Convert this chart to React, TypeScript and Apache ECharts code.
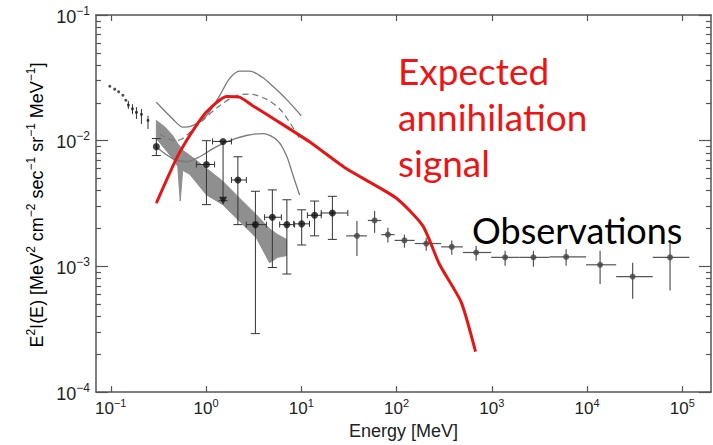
import React, { useEffect, useRef } from "react";
import * as echarts from "echarts";

// ---- axis ticks ----
const xMajor = [0.1, 1, 10, 100, 1000, 10000, 100000];
const yMajor = [1e-4, 1e-3, 1e-2, 1e-1];
const yMinor = [
  2e-4, 3e-4, 4e-4, 5e-4, 6e-4, 7e-4, 8e-4, 9e-4,
  2e-3, 3e-3, 4e-3, 5e-3, 6e-3, 7e-3, 8e-3, 9e-3,
  2e-2, 3e-2, 4e-2, 5e-2, 6e-2, 7e-2, 8e-2, 9e-2,
];

// ---- expected annihilation signal (red) ----
const signalE = [0.301, 0.489, 0.675, 1.01, 1.64, 2.25, 3.09, 5.47, 12.2, 29.6, 99, 189, 282, 477, 675];
const signalF = [3.19e-3, 7.2e-3, 1.1e-2, 1.69e-2, 2.25e-2, 2.22e-2, 1.9e-2, 1.45e-2, 9.8e-3, 6.0e-3, 3.5e-3, 2.1e-3, 1.04e-3, 5.2e-4, 2.1e-4];

// ---- grey model curves ----
const upperE = [0.301, 0.447, 0.573, 0.724, 1.01, 1.39, 1.77, 2.25, 2.87, 3.93, 5.0, 6.96, 10.0];
const upperF = [2.02e-2, 1.49e-2, 1.28e-2, 1.32e-2, 1.58e-2, 2.28e-2, 3.13e-2, 3.58e-2, 3.58e-2, 3.18e-2, 2.72e-2, 2.14e-2, 1.58e-2];
const dashE = [0.327, 0.47, 0.569, 0.923, 1.39, 2.08, 2.87, 4.3, 5.93, 7.55, 9.62];
const dashF = [1.13e-2, 1.0e-2, 1.04e-2, 1.45e-2, 1.9e-2, 2.28e-2, 2.35e-2, 2.14e-2, 1.79e-2, 1.4e-2, 1.04e-2];
const lowerE = [0.301, 0.447, 0.622, 0.859, 1.18, 1.64, 2.65, 3.96, 5.65, 6.97, 8.17, 9.6];
const lowerF = [8.9e-3, 7.2e-3, 6.8e-3, 7.45e-3, 8.65e-3, 9.8e-3, 1.1e-2, 1.14e-2, 1.0e-2, 7.65e-3, 5.33e-3, 3.7e-3];

// ---- shaded band ----
const bandE = [0.301, 0.368, 0.447, 0.505, 0.536, 0.569, 0.675, 1.01, 1.5, 2.25, 3.37, 4.65, 5.65, 7.0];
const bandTop = [1.45e-2, 1.29e-2, 1.1e-2, 9.46e-3, 8.97e-3, 8.39e-3, 7.66e-3, 6.03e-3, 4.76e-3, 3.49e-3, 2.58e-3, 1.99e-3, 1.79e-3, 1.64e-3];
const bandBot = [1.04e-2, 8.65e-3, 7.21e-3, 6.24e-3, 3.31e-3, 5.81e-3, 5.4e-3, 3.71e-3, 3.1e-3, 2.29e-3, 1.69e-3, 1.07e-3, 1.18e-3, 1.22e-3];

// ---- small low-energy dots ----
const dotE = [0.0977, 0.11, 0.121, 0.134, 0.144, 0.153, 0.169, 0.186, 0.21, 0.246];
const dotF = [2.71e-2, 2.57e-2, 2.45e-2, 2.3e-2, 2.1e-2, 1.92e-2, 1.79e-2, 1.68e-2, 1.62e-2, 1.45e-2];
const dotFlo = [2.71e-2, 2.57e-2, 2.45e-2, 2.3e-2, 2.1e-2, 1.79e-2, 1.63e-2, 1.49e-2, 1.36e-2, 1.24e-2];
const dotFhi = [2.71e-2, 2.57e-2, 2.45e-2, 2.3e-2, 2.1e-2, 2.07e-2, 1.95e-2, 1.85e-2, 1.79e-2, 1.58e-2];

// ---- black points (capped error bars) ----
const bkE = [0.301, 1.01, 1.51, 2.16, 3.3, 4.97, 7.06, 10.1, 13.8, 21.2];
const bkF = [8.97e-3, 6.47e-3, 9.87e-3, 4.87e-3, 2.15e-3, 2.46e-3, 2.15e-3, 2.18e-3, 2.55e-3, 2.66e-3];
const bkElo = [0.301, 0.792, 1.17, 1.85, 2.65, 4.12, 5.93, 8.32, 11.6, 16.2];
const bkEhi = [0.301, 1.23, 1.85, 2.65, 4.3, 6.18, 8.51, 12.2, 16.2, 30.8];
const bkFlo = [7.62e-3, 3.1e-3, 3.33e-3, 2.15e-3, 2.92e-4, 9.8e-4, 8.7e-4, 1.48e-3, 1.75e-3, 1.64e-3];
const bkFhi = [1.04e-2, 1.0e-2, 9.87e-3, 7.45e-3, 3.96e-3, 4.06e-3, 3.39e-3, 2.82e-3, 3.31e-3, 3.61e-3];
const limitE = [1.51];
const limitF = [3.33e-3];

// ---- grey points (crosses) ----
const gyE = [38.4, 58.8, 81.1, 121, 205, 380, 685, 1380, 2735, 6030, 13700, 30100, 74300];
const gyF = [1.75e-3, 2.32e-3, 1.79e-3, 1.61e-3, 1.52e-3, 1.43e-3, 1.29e-3, 1.18e-3, 1.18e-3, 1.19e-3, 1.03e-3, 8.3e-4, 1.18e-3];
const gyElo = [29.6, 50.0, 69.2, 95.3, 155, 294, 497, 986, 1950, 4030, 9770, 20200, 48900];
const gyEhi = [48.9, 69.2, 95.3, 155, 294, 497, 986, 1950, 4030, 9770, 20200, 48900, 118600];
const gyFlo = [1.21e-3, 1.85e-3, 1.55e-3, 1.41e-3, 1.33e-3, 1.24e-3, 1.11e-3, 1.01e-3, 9.95e-4, 1.01e-3, 7.26e-4, 5.53e-4, 6.44e-4];
const gyFhi = [2.3e-3, 2.76e-3, 2.03e-3, 1.79e-3, 1.69e-3, 1.61e-3, 1.46e-3, 1.33e-3, 1.33e-3, 1.37e-3, 1.33e-3, 1.07e-3, 1.55e-3];

const zip2 = (a: number[], b: number[]) => a.map((v, i) => [v, b[i]]);
const zip6 = (e: number[], f: number[], el: number[], eh: number[], fl: number[], fh: number[]) =>
  e.map((v, i) => [v, f[i], el[i], eh[i], fl[i], fh[i]]);

const pow = (v: number) => {
  const e = Math.round(Math.log10(v));
  return `{n|10}{s|${e < 0 ? "\u2212" + -e : e}}`;
};

const errRender = (color: string, lw: number, cap: number, hcap: number) => (params: any, api: any) => {
  const x = api.value(0), y = api.value(1);
  const xlo = api.value(2), xhi = api.value(3), ylo = api.value(4), yhi = api.value(5);
  const style = { stroke: color, lineWidth: lw };
  const ch: any[] = [];
  const ln = (a: number[], b: number[]) =>
    ch.push({ type: "line", shape: { x1: a[0], y1: a[1], x2: b[0], y2: b[1] }, style });
  if (ylo !== yhi) {
    const a = api.coord([x, ylo]);
    const b = api.coord([x, yhi]);
    ln(a, b);
    if (cap > 0) {
      ln([a[0] - cap / 2, a[1]], [a[0] + cap / 2, a[1]]);
      ln([b[0] - cap / 2, b[1]], [b[0] + cap / 2, b[1]]);
    }
  }
  if (xlo !== xhi) {
    const a = api.coord([xlo, y]);
    const b = api.coord([xhi, y]);
    ln(a, b);
    if (hcap > 0) {
      ln([a[0], a[1] - hcap / 2], [a[0], a[1] + hcap / 2]);
      ln([b[0], b[1] - hcap / 2], [b[0], b[1] + hcap / 2]);
    }
  }
  return { type: "group", children: ch };
};

const AXC = "#555";
const FONT = "Liberation Sans";

export default function App() {
  const ref = useRef<HTMLDivElement>(null);
  useEffect(() => {
    if (!ref.current) return;
    const chart = echarts.init(ref.current, undefined, { renderer: "svg" });
    const richX = {
      n: { fontSize: 17, fontFamily: FONT, color: "#222", lineHeight: 20, verticalAlign: "bottom" },
      s: { fontSize: 11, fontFamily: FONT, color: "#222", lineHeight: 11, verticalAlign: "top" },
    };
    const richY = {
      n: { fontSize: 18, fontFamily: FONT, color: "#222", lineHeight: 21, verticalAlign: "bottom" },
      s: { fontSize: 12, fontFamily: FONT, color: "#222", lineHeight: 12, verticalAlign: "top" },
    };
    const baseX = {
      type: "log",
      logBase: 10,
      min: 0.07,
      max: 2e5,
      splitLine: { show: false },
      axisLine: { show: true, onZero: false, lineStyle: { color: AXC, width: 1.5 } },
    };
    const baseY = {
      type: "log",
      logBase: 10,
      min: 1e-4,
      max: 1e-1,
      splitLine: { show: false },
      axisLine: { show: true, onZero: false, lineStyle: { color: AXC, width: 1.5 } },
    };
    const option: any = {
      animation: false,
      backgroundColor: "#fff",
      grid: { left: 96, right: 2, top: 15, bottom: 49 },
      xAxis: [
        {
          ...baseX,
          position: "bottom",
          axisTick: { show: true, inside: true, length: 6, customValues: xMajor, lineStyle: { color: AXC, width: 1.2 } },
          axisLabel: { customValues: xMajor, formatter: pow, rich: richX, margin: 5 },
          name: "Energy [MeV]",
          nameLocation: "middle",
          nameGap: 22,
          nameTextStyle: { fontSize: 18, fontFamily: FONT, color: "#222" },
        },
        {
          ...baseX,
          position: "top",
          axisTick: { show: true, inside: true, length: 6, customValues: xMajor, lineStyle: { color: AXC, width: 1.2 } },
          axisLabel: { show: false },
        },
      ],
      yAxis: [
        {
          ...baseY,
          position: "left",
          axisTick: { show: true, inside: true, length: 12, customValues: yMajor, lineStyle: { color: AXC, width: 1.2 } },
          axisLabel: { customValues: yMajor, formatter: pow, rich: richY, margin: 6 },
        },
        {
          ...baseY,
          position: "left",
          axisLine: { show: false },
          axisTick: { show: true, inside: true, length: 5, customValues: yMinor, lineStyle: { color: AXC, width: 1.2 } },
          axisLabel: { show: false },
        },
        {
          ...baseY,
          position: "right",
          axisTick: { show: true, inside: true, length: 12, customValues: yMajor, lineStyle: { color: AXC, width: 1.2 } },
          axisLabel: { show: false },
        },
        {
          ...baseY,
          position: "right",
          axisLine: { show: false },
          axisTick: { show: true, inside: true, length: 5, customValues: yMinor, lineStyle: { color: AXC, width: 1.2 } },
          axisLabel: { show: false },
        },
      ],
      graphic: [
        {
          type: "text",
          x: 35,
          y: 205,
          rotation: Math.PI / 2,
          style: {
            text:
              "{n|E}{s|2}{n|I(E) [MeV}{s|2}{n| cm}{s|\u22122}{n| sec}{s|\u22121}{n| sr}{s|\u22121}{n| MeV}{s|\u22121}{n|]}",
            rich: richY,
            align: "center",
            verticalAlign: "middle",
          },
        },
        { type: "text", x: 398, y: 70, style: { text: "Expected", fontSize: 37, fontFamily: "Lato", fill: "#ee1414", verticalAlign: "middle" } },
        { type: "text", x: 398, y: 116, style: { text: "annihilation", fontSize: 37, fontFamily: "Lato", fill: "#ee1414", verticalAlign: "middle" } },
        { type: "text", x: 398, y: 162, style: { text: "signal", fontSize: 37, fontFamily: "Lato", fill: "#ee1414", verticalAlign: "middle" } },
        { type: "text", x: 472, y: 230, style: { text: "Observations", fontSize: 36, fontFamily: "Lato", fill: "#000", verticalAlign: "middle" } },
      ],
      series: [
        {
          type: "custom",
          clip: true,
          data: [[bandE[0], bandTop[0]]],
          renderItem: (params: any, api: any) => {
            const pts: number[][] = [];
            for (let i = 0; i < bandE.length; i++) pts.push(api.coord([bandE[i], bandTop[i]]));
            for (let i = bandE.length - 1; i >= 0; i--) pts.push(api.coord([bandE[i], bandBot[i]]));
            return { type: "polygon", shape: { points: pts }, style: { fill: "#8f8f8f", stroke: "#8f8f8f", lineWidth: 1 } };
          },
          z: 1,
        },
        { type: "line", data: zip2(upperE, upperF), symbol: "none", smooth: 0.3, lineStyle: { color: "#7a7a7a", width: 1.3 }, z: 2 },
        { type: "line", data: zip2(dashE, dashF), symbol: "none", smooth: 0.3, lineStyle: { color: "#7a7a7a", width: 1.3, type: [6, 4] }, z: 2 },
        { type: "line", data: zip2(lowerE, lowerF), symbol: "none", smooth: 0.3, lineStyle: { color: "#7a7a7a", width: 1.3 }, z: 2 },
        {
          type: "custom",
          data: zip6(dotE, dotF, dotE, dotE, dotFlo, dotFhi),
          encode: { x: 0, y: 1 },
          renderItem: errRender("#333", 1, 0, 0),
          z: 3,
        },
        { type: "scatter", data: zip2(dotE, dotF), symbol: "circle", symbolSize: 3, itemStyle: { color: "#222" }, z: 4 },
        {
          type: "custom",
          data: zip6(bkE, bkF, bkElo, bkEhi, bkFlo, bkFhi),
          encode: { x: 0, y: 1 },
          renderItem: errRender("#333", 1, 9, 6),
          z: 3,
        },
        { type: "scatter", data: zip2(bkE, bkF), symbol: "circle", symbolSize: 7, itemStyle: { color: "#111" }, z: 4 },
        { type: "scatter", data: zip2(limitE, limitF), symbol: "triangle", symbolRotate: 180, symbolSize: 8, itemStyle: { color: "#111" }, z: 4 },
        {
          type: "custom",
          data: zip6(gyE, gyF, gyElo, gyEhi, gyFlo, gyFhi),
          encode: { x: 0, y: 1 },
          renderItem: errRender("#555", 1.2, 0, 0),
          z: 3,
        },
        { type: "scatter", data: zip2(gyE, gyF), symbol: "circle", symbolSize: 6, itemStyle: { color: "#444" }, z: 4 },
        { type: "line", data: zip2(signalE, signalF), symbol: "none", smooth: 0.2, lineStyle: { color: "#e81515", width: 3 }, z: 5 },
      ],
    };
    chart.setOption(option);
    return () => chart.dispose();
  }, []);
  return (
    <div
      ref={ref}
      style={{ position: "fixed", left: 0, top: 0, width: 713, height: 445, background: "#fff" }}
    />
  );
}
